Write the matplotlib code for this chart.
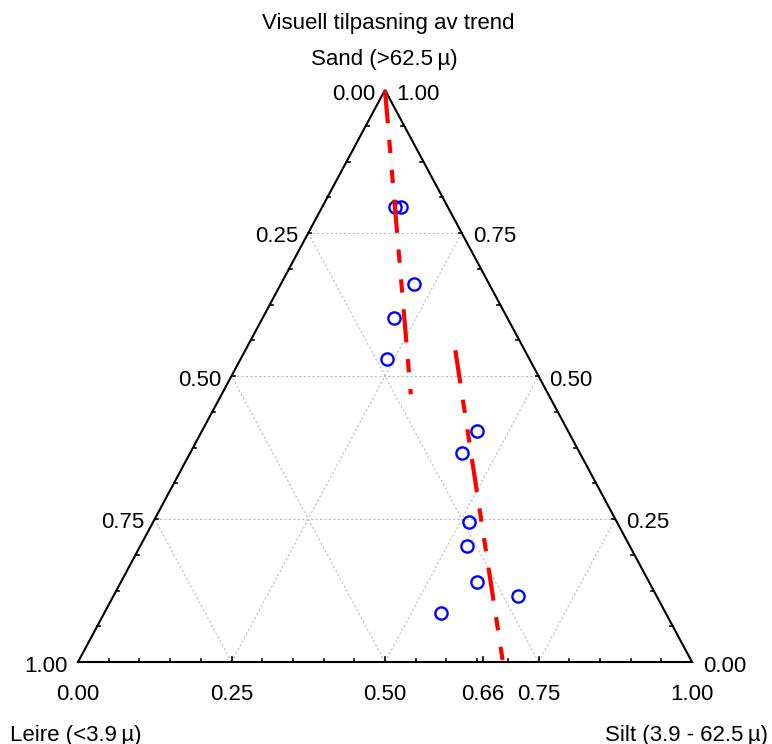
import numpy as np
import matplotlib.pyplot as plt

plt.rcParams['font.family'] = ['Liberation Sans', 'DejaVu Sans']

# kornfordeling for prøvene (andeler)
sand = [0.795, 0.795, 0.660, 0.602, 0.530, 0.403, 0.366, 0.244, 0.202, 0.139, 0.116, 0.086]
silt = [0.119, 0.128, 0.218, 0.214, 0.238, 0.448, 0.443, 0.515, 0.532, 0.580, 0.659, 0.548]

# trendlinjer (start/slutt)
trend1_sand = [1.000, 0.468]
trend1_silt = [0.000, 0.308]
trend2_sand = [0.545, 0.000]
trend2_silt = [0.342, 0.692]

grid_levels = [0.25, 0.50, 0.75]
side_labels = [0.00, 0.25, 0.50, 0.75, 1.00]
bottom_labels = [0.00, 0.25, 0.50, 0.66, 0.75, 1.00]

W, H = 772, 744
TX0, TX1, TY0, TY1 = 78, 692, 662, 90   # trekantens hjørner i piksler
PT = 72 / 100                              # piksel -> punkt


def to_xy(s, t):
    s = np.asarray(s, dtype=float)
    t = np.asarray(t, dtype=float)
    return t + 0.5 * s, s


fig = plt.figure(figsize=(W / 100, H / 100), dpi=100)
ax = fig.add_axes([TX0 / W, (H - TY0) / H, (TX1 - TX0) / W, (TY0 - TY1) / H])
ax.set_xlim(0, 1)
ax.set_ylim(0, 1)
ax.axis('off')

dx = 1 / (TX1 - TX0)
dy = 1 / (TY0 - TY1)

# rutenett
grid_kw = dict(color='#bdbdbd', lw=0.8, linestyle=(0, (2, 2)), zorder=1)
for g in grid_levels:
    x, y = to_xy([g, g], [0, 1 - g])          # konstant sand
    ax.plot(x, y, **grid_kw)
    x, y = to_xy([0, 1 - g], [g, g])          # konstant silt
    ax.plot(x, y, **grid_kw)
    x, y = to_xy([0, 1 - g], [1 - g, 0])      # konstant leire
    ax.plot(x, y, **grid_kw)

# trekant
ax.plot([0, 1, 0.5, 0], [0, 0, 1, 0], color='black', lw=1.5,
        solid_joinstyle='miter', clip_on=False, zorder=3)

# tikkmerker
for t in np.arange(0.05, 1.0, 0.05):
    major = abs(t / 0.25 - round(t / 0.25)) < 1e-6
    ax.plot([t, t], [0, (5 if major else 3) * dy], color='black', lw=1.2, zorder=3)
ax.plot([0.66, 0.66], [0, 5 * dy], color='black', lw=1.2, zorder=3)
for k in range(1, 16):
    s = k / 16
    ax.plot([0.5 * s, 0.5 * s + 3 * dx], [s, s], color='black', lw=1.2, zorder=3)
    ax.plot([1 - 0.5 * s, 1 - 0.5 * s - 3 * dx], [s, s], color='black', lw=1.2, zorder=3)

# prøvepunkter
x, y = to_xy(sand, silt)
ax.plot(x, y, 'o', mfc='none', mec='blue', ms=8.8, mew=1.7, zorder=4, clip_on=False)

# trendlinjer
dash = [8, 4, 3.2, 4, 3.2, 4]
for ts, tt in [(trend1_sand, trend1_silt), (trend2_sand, trend2_silt)]:
    x, y = to_xy(ts, tt)
    ln, = ax.plot(x, y, color='red', lw=3, zorder=5, clip_on=False)
    ln.set_dashes(dash)

# aksetall
fs = 16
for v in side_labels:
    # venstre side: leire
    x, y = to_xy([1 - v], [0])
    ax.annotate(f'{v:.2f}', (x[0], y[0]), xytext=(-10 * PT, -4 * PT),
                textcoords='offset points', ha='right', va='center', fontsize=fs)
    # høyre side: sand
    x, y = to_xy([v], [1 - v])
    ax.annotate(f'{v:.2f}', (x[0], y[0]), xytext=(11 * PT, -4 * PT),
                textcoords='offset points', ha='left', va='center', fontsize=fs)
for v in bottom_labels:
    ax.annotate(f'{v:.2f}', (v, 0), xytext=(0, -32 * PT),
                textcoords='offset points', ha='center', va='center', fontsize=fs)

fig.text(388 / W, 1 - 24 / H, 'Visuell tilpasning av trend', ha='center', va='center', fontsize=fs)
fig.text(384 / W, 1 - 59 / H, 'Sand (>62.5\u2009µ)', ha='center', va='center', fontsize=fs)
fig.text(10 / W, 1 - 735 / H, 'Leire (<3.9\u2009µ)', ha='left', va='center', fontsize=fs)
fig.text(768 / W, 1 - 735 / H, 'Silt (3.9 - 62.5\u2009µ)', ha='right', va='center', fontsize=fs)

fig.savefig('out.png', dpi=100)
